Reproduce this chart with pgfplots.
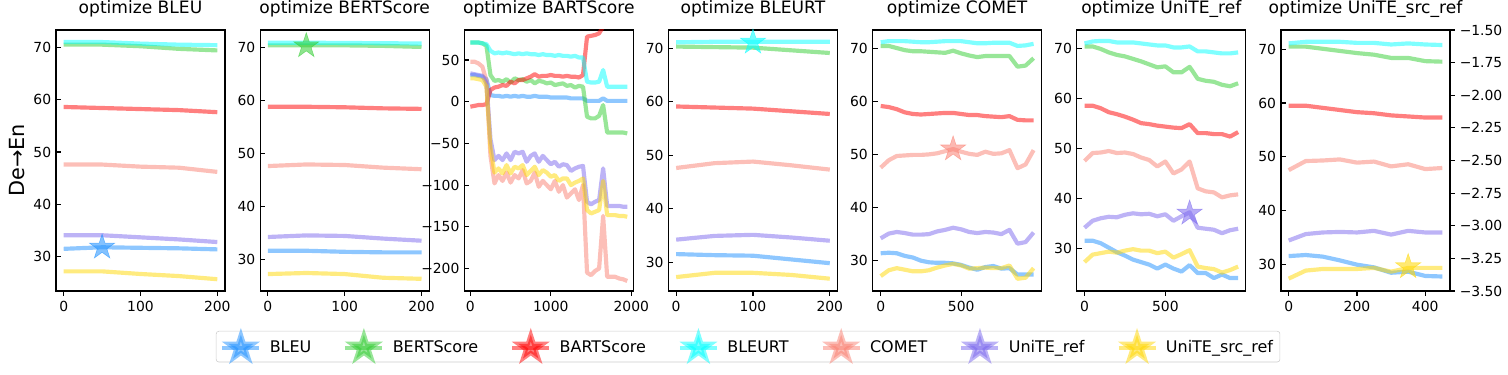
\documentclass[border=0pt]{standalone}
\usepackage{pgfplots}
\pgfplotsset{compat=1.18}
\usepackage{pgfplotstable}
\usepackage{fontspec}
\setmainfont{DejaVu Sans}
\newcommand\fs[1]{\fontsize{#1}{#1}\selectfont}

\definecolor{cBleu}{HTML}{1E90FF}
\definecolor{cBert}{HTML}{32CD32}
\definecolor{cBart}{HTML}{FF0000}
\definecolor{cBleurt}{HTML}{00FFFF}
\definecolor{cComet}{HTML}{FA8072}
\definecolor{cRef}{HTML}{7B68EE}
\definecolor{cSrc}{HTML}{FFD700}

% filled five-point star
\pgfdeclareplotmark{fstar}{%
  \pgfpathmoveto{\pgfpointpolar{90}{\pgfplotmarksize}}%
  \pgfpathlineto{\pgfpointpolar{126}{0.382\pgfplotmarksize}}%
  \pgfpathlineto{\pgfpointpolar{162}{\pgfplotmarksize}}%
  \pgfpathlineto{\pgfpointpolar{198}{0.382\pgfplotmarksize}}%
  \pgfpathlineto{\pgfpointpolar{234}{\pgfplotmarksize}}%
  \pgfpathlineto{\pgfpointpolar{270}{0.382\pgfplotmarksize}}%
  \pgfpathlineto{\pgfpointpolar{306}{\pgfplotmarksize}}%
  \pgfpathlineto{\pgfpointpolar{342}{0.382\pgfplotmarksize}}%
  \pgfpathlineto{\pgfpointpolar{18}{\pgfplotmarksize}}%
  \pgfpathlineto{\pgfpointpolar{54}{0.382\pgfplotmarksize}}%
  \pgfpathclose
  \pgfusepathqfillstroke}

% columns: x bleu bert bart bleurt comet ref src
\pgfplotstableread{
x bleu bert bart bleurt comet ref src
0   31.5 70.5 58.6 71.0 47.6 34.1 27.2
50  31.8 70.5 58.4 71.0 47.6 34.1 27.2
100 31.7 70.2 58.2 70.7 47.2 33.7 26.7
150 31.6 69.7 58.0 70.5 47.0 33.3 26.3
200 31.4 69.4 57.6 70.4 46.2 32.8 25.7
}\tabBleu
\pgfplotstableread{
x bleu bert bart bleurt comet ref src
0   31.6 70.4 58.8 70.9 47.6 34.2 27.2
50  31.6 70.4 58.8 70.9 47.9 34.5 27.4
100 31.4 70.4 58.7 70.85 47.8 34.4 27.2
150 31.3 70.3 58.5 70.8 47.3 33.9 26.5
200 31.3 70.1 58.4 70.75 47.0 33.5 26.3
}\tabBert
\pgfplotstableread{
x bleu bert bart bleurt comet ref src
0    32 71 -6 71 48 34 28
50   32 71 -5 71 48 33 28
100  31 71 -4 71 46 32 27
150  30 70 -4 70 42 31 26
200  27 67 -3 69 25 22 18
250  8 32 14 61 -65 -45 -55
300  7 25 17 58 -98 -70 -85
350  7 26 18 59 -88 -65 -80
400  6 24 20 58 -95 -70 -86
450  7 27 19 59 -85 -62 -76
500  6 23 24 58 -97 -70 -86
550  7 28 22 57 -88 -60 -78
600  6 26 26 58 -92 -62 -80
650  7 27 26 57 -82 -60 -76
700  6 24 28 58 -98 -72 -88
750  6 26 30 57 -95 -65 -83
800  7 22 33 57 -85 -62 -78
850  6 25 30 56 -102 -72 -88
900  6 24 31 57 -95 -65 -82
950  6 22 31 56 -100 -70 -85
1000 5 23 32 56 -105 -75 -90
1050 5 20 31 55 -95 -72 -88
1100 5 21 31 56 -108 -78 -95
1150 5 22 30 55 -100 -75 -92
1200 5 19 31 55 -115 -76 -92
1250 4 20 30 54 -110 -83 -100
1300 4 17 30 55 -105 -80 -97
1350 4 19 29 53 -118 -78 -95
1400 4 18 32 53 -100 -77 -92
1450 1 -18 78 24 -205 -120 -130
1500 1 -20 79 23 -208 -123 -134
1550 1 -20 80 23 -203 -120 -132
1600 1 -17 82 24 -200 -118 -130
1650 4 -4 90 38 -137 -80 -95
1700 1 -37 95 18 -210 -125 -136
1750 1 -37 96 18 -210 -125 -136
1800 1 -37 96 18 -210 -125 -136
1850 1 -37 97 18 -212 -125 -137
1900 1 -37 97 18 -213 -126 -137
1950 1 -38 97 18 -215 -126 -138
}\tabBart
\pgfplotstableread{
x bleu bert bart bleurt comet ref src
0   31.5 70.3 59.1 71.1 47.6 34.2 27.2
50  31.3 70.2 58.9 71.2 48.5 34.9 28.0
100 31.2 70.1 58.7 71.2 48.8 35.1 28.0
150 30.5 69.6 58.2 71.2 48.1 34.6 27.6
200 29.8 69.1 57.7 71.2 47.3 34.0 26.9
}\tabBleurt
\pgfplotstableread{
x bleu bert bart bleurt comet ref src
0   31.4 70.4 59.1 71.1 47.5 34.2 27.1
50  31.5 70.4 58.9 71.3 48.9 35.1 28.2
100 31.4 70.0 58.5 71.3 49.7 35.4 28.6
150 30.9 69.6 57.9 71.3 49.8 35.2 28.3
200 30.6 69.4 57.6 71.2 49.9 34.9 28.0
250 30.0 69.4 57.5 71.1 49.9 34.9 28.0
300 29.7 69.3 57.6 71.1 50.0 35.0 28.2
350 29.6 69.2 57.7 71.2 50.2 35.5 28.7
400 29.6 69.1 57.8 71.3 50.6 35.8 29.1
450 29.5 69.5 57.8 71.3 51.0 36.2 29.4
500 29.2 69.0 57.6 71.3 50.5 35.9 29.1
550 28.7 68.6 57.4 71.1 50.1 35.4 28.5
600 28.3 68.3 57.4 70.9 49.9 35.2 28.6
650 28.8 68.5 57.2 70.9 50.5 35.4 28.7
700 29.0 68.5 57.1 71.0 50.1 35.3 28.6
750 28.5 68.5 57.0 71.0 50.2 35.0 28.6
800 28.6 68.5 57.2 71.0 50.8 35.8 29.1
850 27.4 66.5 56.5 70.4 47.4 33.2 26.6
900 27.4 66.7 56.4 70.5 48.1 33.5 26.8
950 27.4 68.1 56.4 70.8 50.8 35.3 28.6
}\tabComet
\pgfplotstableread{
x bleu bert bart bleurt comet ref src
0   31.5 70.5 58.6 71.1 47.5 34.1 27.2
50  31.5 70.5 58.6 71.5 49.1 35.5 28.7
100 31.0 70.0 58.1 71.6 49.2 36.0 29.0
150 30.1 69.3 57.3 71.6 49.5 36.3 29.3
200 29.2 68.8 56.9 71.3 49.1 36.2 29.1
250 28.5 68.5 56.4 71.3 49.2 36.7 29.5
300 27.7 68.0 55.8 71.3 48.9 37.0 29.8
350 27.2 67.5 55.1 71.1 48.2 36.8 29.5
400 26.7 66.9 54.9 70.9 47.7 36.9 29.5
450 25.9 66.3 54.6 70.7 46.4 36.4 29.0
500 26.7 66.5 54.4 70.7 47.4 36.8 29.3
550 25.9 65.3 54.2 70.3 45.0 35.5 28.1
600 25.3 65.3 54.1 70.3 45.8 36.4 28.8
650 26.6 66.4 54.9 70.5 47.4 37.2 29.6
700 25.0 64.0 53.1 69.5 42.0 34.1 26.3
750 25.0 63.6 53.1 69.5 41.4 33.9 26.0
800 24.0 63.4 52.9 69.3 41.2 33.7 25.8
850 24.7 62.8 52.9 69.1 40.2 33.0 25.1
900 24.0 62.5 52.4 69.1 40.6 33.6 25.6
950 24.0 63.1 53.3 69.3 40.8 33.9 26.3
}\tabRef
\pgfplotstableread{
x bleu bert bart bleurt comet ref src
0   31.5 70.5 59.5 71.1 47.5 34.4 27.3
50  31.7 70.5 59.5 71.4 49.2 35.6 28.8
100 31.4 70.1 59.1 71.4 49.3 35.9 29.1
150 30.7 69.7 58.7 71.4 49.5 36.0 29.1
200 29.9 69.3 58.3 71.2 48.9 35.9 29.1
250 29.4 69.0 58.1 71.2 49.1 36.2 29.3
300 28.4 68.4 57.7 70.9 48.2 35.5 28.6
350 28.6 68.4 57.5 71.1 48.6 36.2 29.3
400 27.8 67.8 57.3 70.9 47.7 35.9 29.3
450 27.7 67.7 57.3 70.8 47.9 35.9 29.3
}\tabSrc

\pgfplotsset{
  ln/.style={line width=3pt, opacity=0.5, line join=round, no markers, forget plot},
  stars/.style={only marks, mark=fstar, mark size=9.5pt, opacity=0.55, forget plot},
  leg/.style={#1, line width=3pt, opacity=0.5, mark=fstar, mark size=9.5pt},
  panel/.style={
    scale only axis, width=121.68pt, height=187.92pt, anchor=south west,
    axis line style={line width=0.8pt},
    every tick/.style={black, line width=0.8pt},
    major tick length=3.5pt,
    xtick pos=bottom, ytick pos=left,
    xtick align=outside, ytick align=inside,
    tick label style={font=\fs{10}},
    /pgf/number format/assume math mode=true,
    /pgf/number format/1000 sep={},
    title style={font=\fs{12.3}, at={(0.5,1)}, anchor=base, yshift=6pt},
    ytick={30,40,50,60,70},
    clip=true,
  },
}
\newcommand\allseries[1]{%
  \addplot[ln, cBleu]   table[x=x,y=bleu]{#1};
  \addplot[ln, cBert]   table[x=x,y=bert]{#1};
  \addplot[ln, cBart]   table[x=x,y=bart]{#1};
  \addplot[ln, cBleurt] table[x=x,y=bleurt]{#1};
  \addplot[ln, cComet]  table[x=x,y=comet]{#1};
  \addplot[ln, cRef]    table[x=x,y=ref]{#1};
  \addplot[ln, cSrc]    table[x=x,y=src]{#1};
}

\begin{document}
\begin{tikzpicture}
\path[use as bounding box] (0,0) rectangle (1085.76pt,270pt);

\begin{axis}[panel, at={(40.32pt,60.48pt)},
  title={optimize BLEU},
  xmin=-10, xmax=210, ymin=23.45, ymax=73.3, xtick={0,100,200},
  ylabel={De→En},
  every axis y label/.style={at={(axis description cs:-0.231,0.5)}, rotate=90, anchor=center, font=\fs{15}},
  legend columns=7,
  legend style={at={(4.095,-0.153)}, anchor=north, draw=black!20, rounded corners=2pt,
    font=\fs{11.5}, inner xsep=3pt, inner ysep=2.5pt,
    /tikz/every odd column/.append style={column sep=4pt},
    /tikz/every even column/.append style={column sep=21pt}},
  legend image code/.code={\draw[mark repeat=2, mark phase=2, #1] plot coordinates {(0pt,0pt) (13.3pt,0pt) (26.6pt,0pt)};},
]
\allseries{\tabBleu}
\addplot[stars, cBleu] coordinates {(50,31.8)};
\addlegendimage{leg=cBleu}
\addlegendentry{BLEU}
\addlegendimage{leg=cBert}
\addlegendentry{BERTScore}
\addlegendimage{leg=cBart}
\addlegendentry{BARTScore}
\addlegendimage{leg=cBleurt}
\addlegendentry{BLEURT}
\addlegendimage{leg=cComet}
\addlegendentry{COMET}
\addlegendimage{leg=cRef}
\addlegendentry{UniTE\_ref}
\addlegendimage{leg=cSrc}
\addlegendentry{UniTE\_src\_ref}
\end{axis}

\begin{axis}[panel, at={(187.34pt,60.48pt)},
  title={optimize BERTScore},
  xmin=-10, xmax=210, ymin=24.0, ymax=73.3, xtick={0,100,200}]
\allseries{\tabBert}
\addplot[stars, cBert] coordinates {(50,70.3)};
\end{axis}

\begin{axis}[panel, at={(334.3pt,60.48pt)},
  title={optimize BARTScore},
  xmin=-75, xmax=2025, ymin=-227, ymax=86, xtick={0,1000,2000},
  ytick={-200,-150,-100,-50,0,50},
  yticklabels={−200,−150,−100,−50,0,50}]
\allseries{\tabBart}
\end{axis}

\begin{axis}[panel, at={(481.3pt,60.48pt)},
  title={optimize BLEURT},
  xmin=-10, xmax=210, ymin=24.6, ymax=73.4, xtick={0,100,200}]
\allseries{\tabBleurt}
\addplot[stars, cBleurt] coordinates {(100,71.1)};
\end{axis}

\begin{axis}[panel, at={(628.3pt,60.48pt)},
  title={optimize COMET},
  xmin=-50, xmax=1000, ymin=24.3, ymax=73.4, xtick={0,500}]
\allseries{\tabComet}
\addplot[stars, cComet] coordinates {(450,51.0)};
\end{axis}

\begin{axis}[panel, at={(775.3pt,60.48pt)},
  title={optimize UniTE\_ref},
  xmin=-47.5, xmax=997.5, ymin=21.4, ymax=73.8, xtick={0,500}]
\allseries{\tabRef}
\addplot[stars, cRef] coordinates {(650,37.0)};
\end{axis}

\begin{axis}[panel, at={(922.3pt,60.48pt)},
  title={optimize UniTE\_src\_ref},
  xmin=-22.5, xmax=472.5, ymin=25.0, ymax=73.6, xtick={0,200,400}]
\allseries{\tabSrc}
\addplot[stars, cSrc] coordinates {(350,29.5)};
\end{axis}

\begin{axis}[scale only axis, width=121.68pt, height=187.92pt, anchor=south west,
  at={(922.3pt,60.48pt)},
  axis x line=none, axis y line*=right,
  axis line style={line width=0.8pt, -},
  every tick/.style={black, line width=0.8pt},
  major tick length=3.5pt, ytick align=outside,
  tick label style={font=\fs{10}},
  xmin=0, xmax=1, ymin=-3.5, ymax=-1.5,
  ytick={-3.5,-3.25,-3,-2.75,-2.5,-2.25,-2,-1.75,-1.5},
  yticklabels={−3.50,−3.25,−3.00,−2.75,−2.50,−2.25,−2.00,−1.75,−1.50}]
\end{axis}
\end{tikzpicture}
\end{document}
